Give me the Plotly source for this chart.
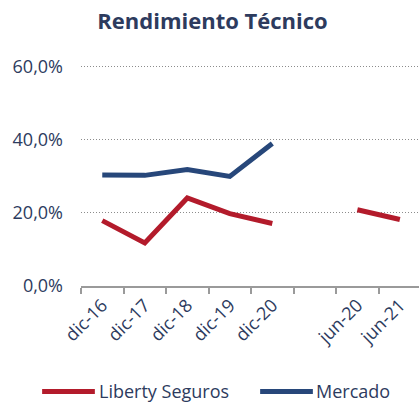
import plotly.graph_objects as go

categories = ["dic-16", "dic-17", "dic-18", "dic-19", "dic-20", " ", "jun-20", "jun-21"]
liberty = [0.179, 0.118, 0.241, 0.198, 0.171, None, 0.209, 0.182]
mercado = [0.304, 0.303, 0.319, 0.300, 0.390, None, None, None]
series_names = ["Liberty Seguros", "Mercado"]
y_ticks = [0, 0.2, 0.4, 0.6]

RED = "#B31B2B"
BLUE = "#27477A"
TEXT = "#2D3B5E"
FONT = "Open Sans"

fig = go.Figure()
fig.add_trace(go.Scatter(x=categories, y=liberty, mode="lines", name=series_names[0],
                         line=dict(color=RED, width=5), connectgaps=False, showlegend=False))
fig.add_trace(go.Scatter(x=categories, y=mercado, mode="lines", name=series_names[1],
                         line=dict(color=BLUE, width=5), connectgaps=False, showlegend=False))

# custom legend
legend_items = [(series_names[0], RED, -0.115, 0.041, 0.047),
                (series_names[1], BLUE, 0.530, 0.686, 0.690)]
for name, col, x0, x1, xt in legend_items:
    fig.add_shape(type="line", xref="paper", yref="paper", x0=x0, x1=x1, y0=-0.475, y1=-0.475,
                  line=dict(color=col, width=5))
    fig.add_annotation(text=name, xref="paper", yref="paper", x=xt, y=-0.475,
                       xanchor="left", yanchor="middle", showarrow=False,
                       font=dict(family=FONT, size=18, color=TEXT))

fig.update_layout(
    width=419, height=403,
    margin=dict(l=81, r=0, t=64, b=117),
    paper_bgcolor="white", plot_bgcolor="white",
    separators=",.",
    title=dict(text="<b>Rendimiento Técnico</b>", x=212.5 / 419, xref="container", xanchor="center",
               y=1 - 21 / 403, yref="container", yanchor="middle", automargin=False,
               font=dict(family=FONT, size=22, color=TEXT)),
    font=dict(family=FONT, color=TEXT, size=18),
    xaxis=dict(type="category", categoryorder="array", categoryarray=categories,
               range=[-0.5, 7.45], showline=True, linecolor="#9A9A9A", linewidth=1.5,
               ticks="outside", ticklen=6, tickcolor="#9A9A9A", tickwidth=1.5,
               tickson="boundaries", tickangle=-45, showgrid=False, automargin=False,
               tickfont=dict(family=FONT, size=18, color=TEXT)),
    yaxis=dict(range=[0, 0.608], tickvals=y_ticks, tickformat=".1%", showgrid=True,
               gridcolor="#8C8C8C", griddash="1px,2px", gridwidth=1, zeroline=False,
               showline=False, ticks="", ticklabelstandoff=17, automargin=False,
               tickfont=dict(family=FONT, size=18, color=TEXT)),
)

fig.write_html("out.html", config={"displayModeBar": False},
               post_script="document.body.style.margin='0';document.body.style.overflow='hidden';")
